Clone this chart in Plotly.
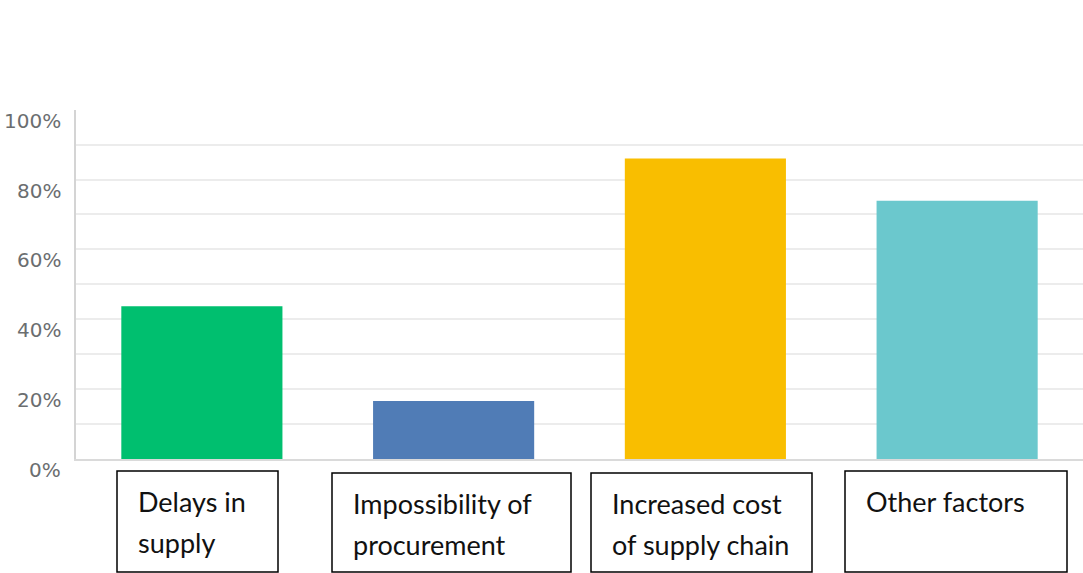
import plotly.graph_objects as go

# Share of respondents per supply-chain problem (percent)
categories = [
    "Delays in supply",
    "Impossibility of procurement",
    "Increased cost of supply chain",
    "Other factors",
]
shares = [43.7, 16.6, 86.0, 73.9]
bar_colors = ["#00bf6f", "#507cb6", "#f9be00", "#6bc8cd"]

# Wrapped caption lines shown in the framed boxes under each bar
caption_lines = [
    ["Delays in", "supply"],
    ["Impossibility of", "procurement"],
    ["Increased cost", "of supply chain"],
    ["Other factors"],
]

tick_values = [0, 20, 40, 60, 80, 100]
tick_labels = ["0%", "20%", "40%", "60%", "80%", "100%"]
Y_MAX = 99.9

# Canvas and plot-area geometry (pixels)
W, H = 1083, 573
M_L, M_R, M_T, M_B = 76, 0, 110, 114
PLOT_W = W - M_L - M_R
PLOT_H = H - M_T - M_B
PLOT_BOTTOM = H - M_B

# Caption frames in pixels: left, right, top, bottom
caption_frames = [
    (117, 278, 471, 572),
    (332, 571, 473, 572),
    (591, 812, 473, 572),
    (845, 1067, 471, 572),
]


def px_x(x):
    return (x - M_L) / PLOT_W


def px_y(y):
    return (PLOT_BOTTOM - y) / PLOT_H


fig = go.Figure(
    go.Bar(
        x=categories,
        y=shares,
        marker=dict(color=bar_colors, line=dict(width=0)),
        hoverinfo="skip",
    )
)

shapes = []
annotations = []

for (left, right, top, bottom), lines in zip(caption_frames, caption_lines):
    shapes.append(
        dict(
            type="rect",
            xref="paper",
            yref="paper",
            x0=px_x(left),
            x1=px_x(right),
            y0=px_y(bottom),
            y1=px_y(top),
            line=dict(color="#000000", width=1.5),
            fillcolor="rgba(0,0,0,0)",
            layer="above",
        )
    )
    for i, line in enumerate(lines):
        annotations.append(
            dict(
                text=line,
                xref="paper",
                yref="paper",
                x=px_x(left + 19),
                y=px_y(top + 30 + 41 * i),
                xanchor="left",
                yanchor="middle",
                showarrow=False,
                font=dict(family="Lato, 'Open Sans', sans-serif", size=27, color="#111111"),
            )
        )

# Value-axis labels sit a little below their gridlines
for v, lab in zip(tick_values, tick_labels):
    annotations.append(
        dict(
            text=lab,
            xref="paper",
            yref="paper",
            x=0,
            y=v / Y_MAX,
            xshift=-13,
            yshift=-11,
            xanchor="right",
            yanchor="middle",
            showarrow=False,
            font=dict(family="DejaVu Sans, sans-serif", size=20, color="#6b6e70"),
        )
    )

fig.update_layout(
    width=W,
    height=H,
    margin=dict(l=M_L, r=M_R, t=M_T, b=M_B, pad=0),
    paper_bgcolor="#ffffff",
    plot_bgcolor="#ffffff",
    showlegend=False,
    bargap=0.36,
    shapes=shapes,
    annotations=annotations,
    xaxis=dict(
        showticklabels=False,
        showgrid=False,
        ticks="",
        showline=True,
        linecolor="#dadada",
        linewidth=2,
        fixedrange=True,
    ),
    yaxis=dict(
        range=[0, Y_MAX],
        dtick=10,
        showticklabels=False,
        ticks="",
        showgrid=True,
        gridcolor="#ececec",
        gridwidth=1.5,
        zeroline=False,
        showline=True,
        linecolor="#d4d4d4",
        linewidth=2,
        fixedrange=True,
    ),
)

fig.write_html("out.html", config={"displayModeBar": False})
